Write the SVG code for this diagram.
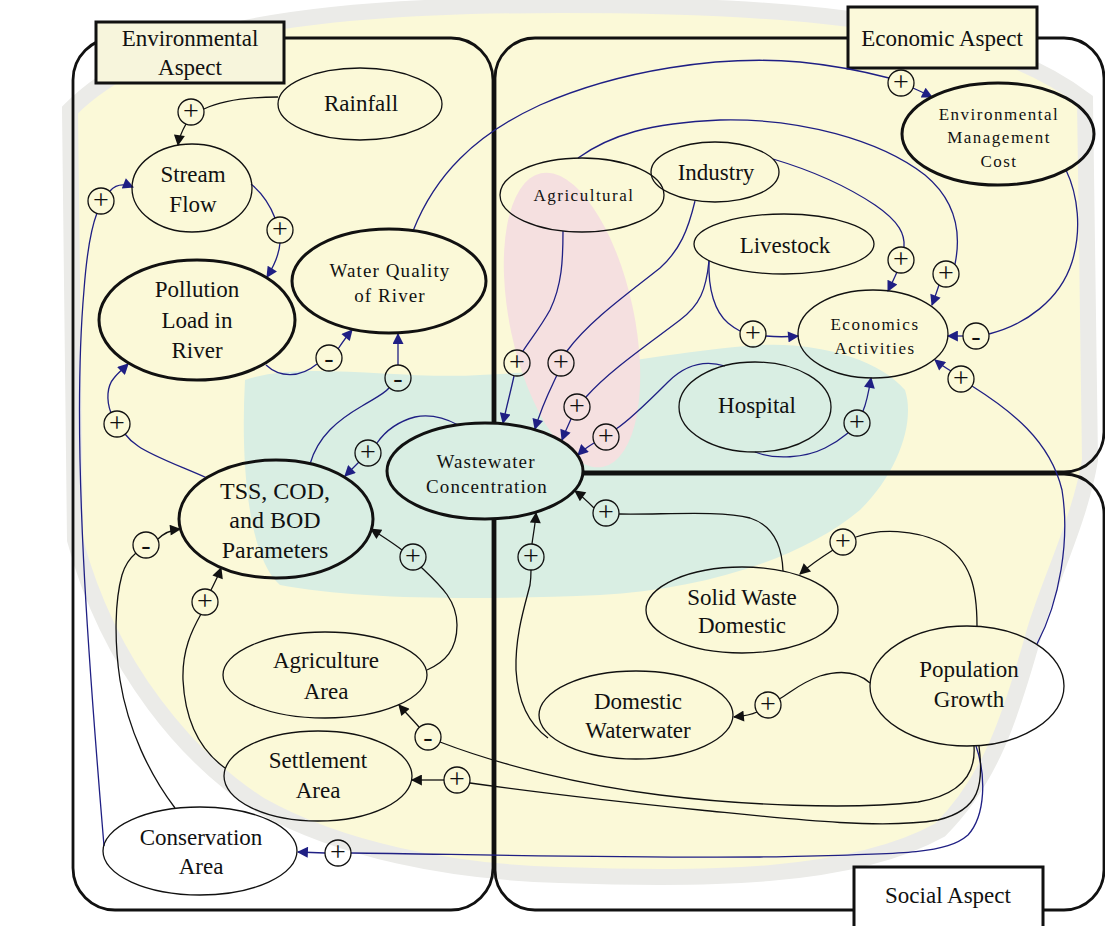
<svg xmlns="http://www.w3.org/2000/svg" width="1105" height="926" viewBox="0 0 1105 926">
<defs>
<style>
.panel{fill:none;stroke:#111;stroke-width:2.8}
.lbl{stroke:#111;stroke-width:3}
.node{fill:none;stroke:#111;stroke-width:1.3}
.thick{stroke-width:3}
.t{font-family:"Liberation Serif","Times New Roman",serif;font-size:23px;fill:#111;text-anchor:middle}
.tb{font-size:24px}
.m{font-size:19px;letter-spacing:1.1px}
.s{font-size:17px;letter-spacing:1.5px}
.blue{fill:none;stroke:#1f1f84;stroke-width:1.3}
.blk{fill:none;stroke:#111;stroke-width:1.3}
.pol{fill:none;stroke:#111;stroke-width:1.3}
.ps{font-family:"Liberation Serif","Times New Roman",serif;font-size:28px;fill:#111;text-anchor:middle}
</style>
<marker id="ab" viewBox="0 0 10 10" refX="9" refY="5" markerWidth="14" markerHeight="11" markerUnits="userSpaceOnUse" orient="auto"><path d="M0,0 L10,5 L0,10 z" fill="#1f1f84"/></marker>
<marker id="ak" viewBox="0 0 10 10" refX="9" refY="5" markerWidth="14" markerHeight="11" markerUnits="userSpaceOnUse" orient="auto"><path d="M0,0 L10,5 L0,10 z" fill="#111"/></marker>
</defs>
<rect width="1105" height="926" fill="#ffffff"/>
<g id="watermark">
<path d="M70,110 C150,30 300,5 560,5 C800,5 980,20 1085,100 L1090,460 C1080,520 1050,580 1035,630 C1010,720 990,780 940,830 C850,880 700,880 560,875 C450,872 340,850 260,805 C190,760 110,670 75,540 Z" fill="#fbf9d8" stroke="#ebebe8" stroke-width="16"/>
<path d="M245,380 C300,360 400,380 480,375 C600,370 680,350 760,345 C820,342 880,360 905,390 C915,420 900,470 860,510 C800,560 700,590 600,595 C480,600 360,600 280,585 C250,560 240,470 245,380 Z" fill="#d9eee3"/>
<ellipse cx="572" cy="320" rx="62" ry="150" transform="rotate(-12 572 320)" fill="#f5e0e0"/>
</g>
<g id="panels">
<rect class="panel" x="73" y="38" width="420" height="872" rx="42"/>
<rect class="panel" x="495" y="38" width="609" height="434" rx="40"/>
<rect class="panel" x="495" y="474" width="609" height="436" rx="40"/>
<g id="label-env"><rect class="lbl" x="96" y="22" width="188" height="61" fill="#f7f5dc"/><text class="t" x="190" y="46">Environmental</text><text class="t" x="190" y="75">Aspect</text></g>
<g id="label-eco"><rect class="lbl" x="848" y="7" width="189" height="61" fill="#fbf9da"/><text class="t" x="942" y="46">Economic Aspect</text></g>
<g id="label-soc"><rect class="lbl" x="854" y="867" width="189" height="70" fill="#ffffff"/><text class="t" x="948" y="903">Social Aspect</text></g>
</g>
<g id="connectors">
<!-- Rainfall -> Stream Flow -->
<path class="blk" d="M278,97 C255,97 225,99 204,109"/>
<path class="blk" d="M186,124 C182,131 179,138 178,145" marker-end="url(#ak)"/>
<!-- Conservation -> Stream Flow -->
<path class="blue" d="M104,846 C92,700 70,450 84,290 C87,250 92,226 97,213"/>
<path class="blue" d="M110,191 C116,184 123,183 133,187" marker-end="url(#ab)"/>
<!-- Stream Flow -> Pollution -->
<path class="blue" d="M251,184 C262,193 270,205 275,218"/>
<path class="blue" d="M280,243 C279,255 274,266 267,277" marker-end="url(#ab)"/>
<!-- Pollution -> Water Quality -->
<path class="blue" d="M266,365 C280,378 300,378 317,364"/>
<path class="blue" d="M338,349 C342,343 346,337 352,330" marker-end="url(#ab)"/>
<!-- TSS -> Water Quality -->
<path class="blue" d="M310,464 C318,436 338,420 362,406 C375,398 384,394 389,388"/>
<path class="blue" d="M398,365 L398,334" marker-end="url(#ab)"/>
<!-- TSS -> Pollution -->
<path class="blue" d="M207,478 C180,466 152,456 138,446 C132,442 128,438 125,434"/>
<path class="blue" d="M111,413 C106,400 107,386 114,378 C118,373 122,370 128,364" marker-end="url(#ab)"/>
<!-- Wastewater -> TSS -->
<path class="blue" d="M458,425 C445,418 430,414 415,417 C400,421 386,430 377,443"/>
<path class="blue" d="M359,462 C355,466 350,471 345,476" marker-end="url(#ab)"/>
<!-- Water Quality -> Env Mgmt Cost -->
<path class="blue" d="M413,231 C435,175 475,135 540,105 C620,70 720,55 800,62 C840,66 870,73 889,78"/>
<path class="blue" d="M913,88 C920,91 926,94 932,97" marker-end="url(#ab)"/>
<!-- Agricultural -> Wastewater -->
<path class="blue" d="M563,231 C563,260 562,285 550,310 C540,328 530,340 523,351"/>
<path class="blue" d="M514,376 C511,390 507,405 503,423" marker-end="url(#ab)"/>
<!-- Industry -> Wastewater -->
<path class="blue" d="M695,201 C688,230 680,250 660,268 C630,292 590,320 567,351"/>
<path class="blue" d="M557,375 C550,390 542,405 535,429" marker-end="url(#ab)"/>
<!-- Livestock -> Wastewater -->
<path class="blue" d="M709,261 C706,290 700,305 680,320 C650,343 610,370 586,397"/>
<path class="blue" d="M571,419 C568,426 565,432 562,440" marker-end="url(#ab)"/>
<!-- Hospital -> Wastewater -->
<path class="blue" d="M725,366 C705,360 685,365 668,382 C650,400 630,420 616,429"/>
<path class="blue" d="M594,443 C589,446 584,449 578,455" marker-end="url(#ab)"/>
<!-- Livestock -> Economics Activities -->
<path class="blue" d="M709,261 C708,290 715,312 728,323 C734,328 738,330 740,331"/>
<path class="blue" d="M766,336 C776,337 787,337 798,336" marker-end="url(#ab)"/>
<!-- Industry -> Economics Activities -->
<path class="blue" d="M773,159 C810,170 845,185 875,205 C900,222 905,235 904,247"/>
<path class="blue" d="M897,272 C894,279 891,285 888,291" marker-end="url(#ab)"/>
<!-- Agricultural -> Economics Activities -->
<path class="blue" d="M578,158 C610,135 650,123 720,120 C800,118 880,140 925,175 C955,200 962,230 955,264"/>
<path class="blue" d="M939,285 C937,291 935,297 932,305" marker-end="url(#ab)"/>
<!-- Env Mgmt Cost -> Economics Activities -->
<path class="blue" d="M1066,170 C1078,195 1082,230 1072,262 C1060,300 1025,325 989,334"/>
<path class="blue" d="M963,336 C958,336 954,336 948,336" marker-end="url(#ab)"/>
<!-- Population -> Economics Activities -->
<path class="blue" d="M1037,644 C1060,600 1070,540 1062,490 C1050,440 1010,410 972,386"/>
<path class="blue" d="M951,371 C946,368 941,365 935,360" marker-end="url(#ab)"/>
<!-- Hospital -> Economics Activities -->
<path class="blue" d="M755,452 C775,460 805,458 825,448 C835,443 842,438 848,433"/>
<path class="blue" d="M863,411 C867,402 869,390 871,378" marker-end="url(#ab)"/>
<!-- Population -> Conservation -->
<path class="blue" d="M976,746 C986,775 986,815 968,835 C945,855 900,854 760,857 C600,858 450,854 351,853"/>
<path class="blue" d="M325,853 L298,852" marker-end="url(#ab)"/>
<!-- Population -> Agriculture Area -->
<path class="blk" d="M974,746 C976,775 960,795 918,802 C850,810 740,805 660,795 C580,785 500,765 440,742"/>
<path class="blk" d="M419,727 C413,720 406,713 399,705" marker-end="url(#ak)"/>
<!-- Population -> Settlement -->
<path class="blk" d="M979,746 C984,785 980,810 938,820 C880,830 780,818 700,810 C600,800 520,790 470,783"/>
<path class="blk" d="M444,780 C432,780 422,780 412,780" marker-end="url(#ak)"/>
<!-- Agriculture Area -> TSS -->
<path class="blk" d="M427,670 C445,662 457,650 457,625 C457,600 440,585 421,567"/>
<path class="blk" d="M402,550 C393,543 382,536 371,529" marker-end="url(#ak)"/>
<!-- Settlement -> TSS -->
<path class="blk" d="M225,768 C200,750 185,720 183,680 C182,650 192,630 201,614"/>
<path class="blk" d="M211,590 C214,584 217,579 221,568" marker-end="url(#ak)"/>
<!-- Conservation -> TSS -->
<path class="blk" d="M175,808 C150,775 128,730 120,680 C114,640 115,600 122,575 C125,565 130,558 136,553"/>
<path class="blk" d="M158,539 C164,533 171,530 180,529" marker-end="url(#ak)"/>
<!-- Solid Waste -> Wastewater -->
<path class="blk" d="M783,571 C782,545 772,525 750,518 C720,510 660,515 619,514"/>
<path class="blk" d="M594,508 C588,502 582,496 575,491" marker-end="url(#ak)"/>
<!-- Domestic Waterwater -> Wastewater -->
<path class="blk" d="M548,738 C530,725 518,705 516,670 C515,635 525,605 530,585 C531,578 531,574 531,570"/>
<path class="blk" d="M532,544 C533,535 535,527 536,513" marker-end="url(#ak)"/>
<!-- Population -> Solid Waste -->
<path class="blk" d="M977,626 C977,590 972,560 940,542 C915,530 880,528 856,537"/>
<path class="blk" d="M833,550 C822,557 810,565 800,574" marker-end="url(#ak)"/>
<!-- Population -> Domestic Waterwater -->
<path class="blk" d="M870,683 C858,672 840,670 820,676 C800,683 790,693 779,699"/>
<path class="blk" d="M757,712 C751,715 745,716 734,717" marker-end="url(#ak)"/>
</g>
<g id="polarities">
<circle class="pol" cx="191" cy="112" r="13"/><text class="ps" x="191" y="120">+</text>
<circle class="pol" cx="101" cy="201" r="13"/><text class="ps" x="101" y="209">+</text>
<circle class="pol" cx="280" cy="230" r="13"/><text class="ps" x="280" y="238">+</text>
<circle class="pol" cx="329" cy="358" r="13"/><text class="ps" x="329" y="367">-</text>
<circle class="pol" cx="398" cy="378" r="13"/><text class="ps" x="398" y="387">-</text>
<circle class="pol" cx="117" cy="424" r="13"/><text class="ps" x="117" y="432">+</text>
<circle class="pol" cx="368" cy="453" r="13"/><text class="ps" x="368" y="461">+</text>
<circle class="pol" cx="901" cy="83" r="13"/><text class="ps" x="901" y="91">+</text>
<circle class="pol" cx="517" cy="363" r="13"/><text class="ps" x="517" y="371">+</text>
<circle class="pol" cx="561" cy="363" r="13"/><text class="ps" x="561" y="371">+</text>
<circle class="pol" cx="577" cy="407" r="13"/><text class="ps" x="577" y="415">+</text>
<circle class="pol" cx="606" cy="437" r="13"/><text class="ps" x="606" y="445">+</text>
<circle class="pol" cx="753" cy="334" r="13"/><text class="ps" x="753" y="342">+</text>
<circle class="pol" cx="901" cy="260" r="13"/><text class="ps" x="901" y="268">+</text>
<circle class="pol" cx="946" cy="274" r="13"/><text class="ps" x="946" y="282">+</text>
<circle class="pol" cx="976" cy="336" r="13"/><text class="ps" x="976" y="345">-</text>
<circle class="pol" cx="961" cy="379" r="13"/><text class="ps" x="961" y="387">+</text>
<circle class="pol" cx="857" cy="423" r="13"/><text class="ps" x="857" y="431">+</text>
<circle class="pol" cx="338" cy="853" r="13"/><text class="ps" x="338" y="861">+</text>
<circle class="pol" cx="428" cy="737" r="13"/><text class="ps" x="428" y="746">-</text>
<circle class="pol" cx="457" cy="780" r="13"/><text class="ps" x="457" y="788">+</text>
<circle class="pol" cx="413" cy="557" r="13"/><text class="ps" x="413" y="565">+</text>
<circle class="pol" cx="205" cy="602" r="13"/><text class="ps" x="205" y="610">+</text>
<circle class="pol" cx="146" cy="545" r="13"/><text class="ps" x="146" y="554">-</text>
<circle class="pol" cx="606" cy="513" r="13"/><text class="ps" x="606" y="521">+</text>
<circle class="pol" cx="531" cy="557" r="13"/><text class="ps" x="531" y="565">+</text>
<circle class="pol" cx="843" cy="542" r="13"/><text class="ps" x="843" y="550">+</text>
<circle class="pol" cx="768" cy="705" r="13"/><text class="ps" x="768" y="713">+</text>
</g>
<g id="nodes">
<g id="n-rainfall"><ellipse class="node" cx="360" cy="104" rx="82" ry="36"/><text class="t" x="361" y="111">Rainfall</text></g>
<g id="n-streamflow"><ellipse class="node" cx="192" cy="188" rx="60" ry="44"/><text class="t" x="193" y="182">Stream</text><text class="t" x="193" y="212">Flow</text></g>
<g id="n-pollution"><ellipse class="node thick" cx="197" cy="320" rx="98" ry="60"/><text class="t" x="197" y="297">Pollution</text><text class="t" x="197" y="328">Load in</text><text class="t" x="197" y="358">River</text></g>
<g id="n-waterquality"><ellipse class="node thick" cx="389" cy="281" rx="97" ry="52"/><text class="t m" x="390" y="277">Water Quality</text><text class="t m" x="390" y="302">of River</text></g>
<g id="n-tss"><ellipse class="node thick" cx="276" cy="519" rx="97" ry="59"/><text class="t tb" x="275" y="499">TSS, COD,</text><text class="t tb" x="275" y="528">and BOD</text><text class="t tb" x="275" y="558">Parameters</text></g>
<g id="n-wastewater"><ellipse class="node thick" cx="485" cy="471" rx="98" ry="48" style="fill:#d9eee3"/><text class="t m" x="486" y="468">Wastewater</text><text class="t m" x="487" y="493">Concentration</text></g>
<g id="n-agriarea"><ellipse class="node" cx="325" cy="675" rx="102" ry="43"/><text class="t" x="326" y="668">Agriculture</text><text class="t" x="326" y="699">Area</text></g>
<g id="n-settlement"><ellipse class="node" cx="318" cy="776" rx="94" ry="45"/><text class="t" x="318" y="768">Settlement</text><text class="t" x="318" y="798">Area</text></g>
<g id="n-conservation"><ellipse class="node" cx="200" cy="851" rx="97" ry="44"/><text class="t" x="201" y="845">Conservation</text><text class="t" x="201" y="874">Area</text></g>
<g id="n-agricultural"><ellipse class="node" cx="582" cy="195" rx="82" ry="37"/><text class="t s" x="584" y="201">Agricultural</text></g>
<g id="n-industry"><ellipse class="node" cx="715" cy="172" rx="64" ry="30"/><text class="t" x="716" y="180">Industry</text></g>
<g id="n-livestock"><ellipse class="node" cx="784" cy="244" rx="90" ry="30"/><text class="t" x="785" y="253">Livestock</text></g>
<g id="n-economics"><ellipse class="node" cx="873" cy="334" rx="75" ry="44"/><text class="t s" x="875" y="330">Economics</text><text class="t s" x="875" y="354">Activities</text></g>
<g id="n-emc"><ellipse class="node thick" cx="998" cy="134" rx="96" ry="51"/><text class="t s" x="999" y="120">Environmental</text><text class="t s" x="999" y="143">Management</text><text class="t s" x="999" y="167">Cost</text></g>
<g id="n-hospital"><ellipse class="node" cx="755" cy="407" rx="76" ry="45"/><text class="t" x="757" y="413">Hospital</text></g>
<g id="n-solidwaste"><ellipse class="node" cx="742" cy="610" rx="96" ry="43"/><text class="t" x="742" y="605">Solid Waste</text><text class="t" x="742" y="633">Domestic</text></g>
<g id="n-population"><ellipse class="node" cx="967" cy="686" rx="97" ry="60"/><text class="t" x="969" y="677">Population</text><text class="t" x="969" y="707">Growth</text></g>
<g id="n-domww"><ellipse class="node" cx="636" cy="715" rx="97" ry="44"/><text class="t" x="638" y="709">Domestic</text><text class="t" x="638" y="738">Waterwater</text></g>
</g>
</svg>
